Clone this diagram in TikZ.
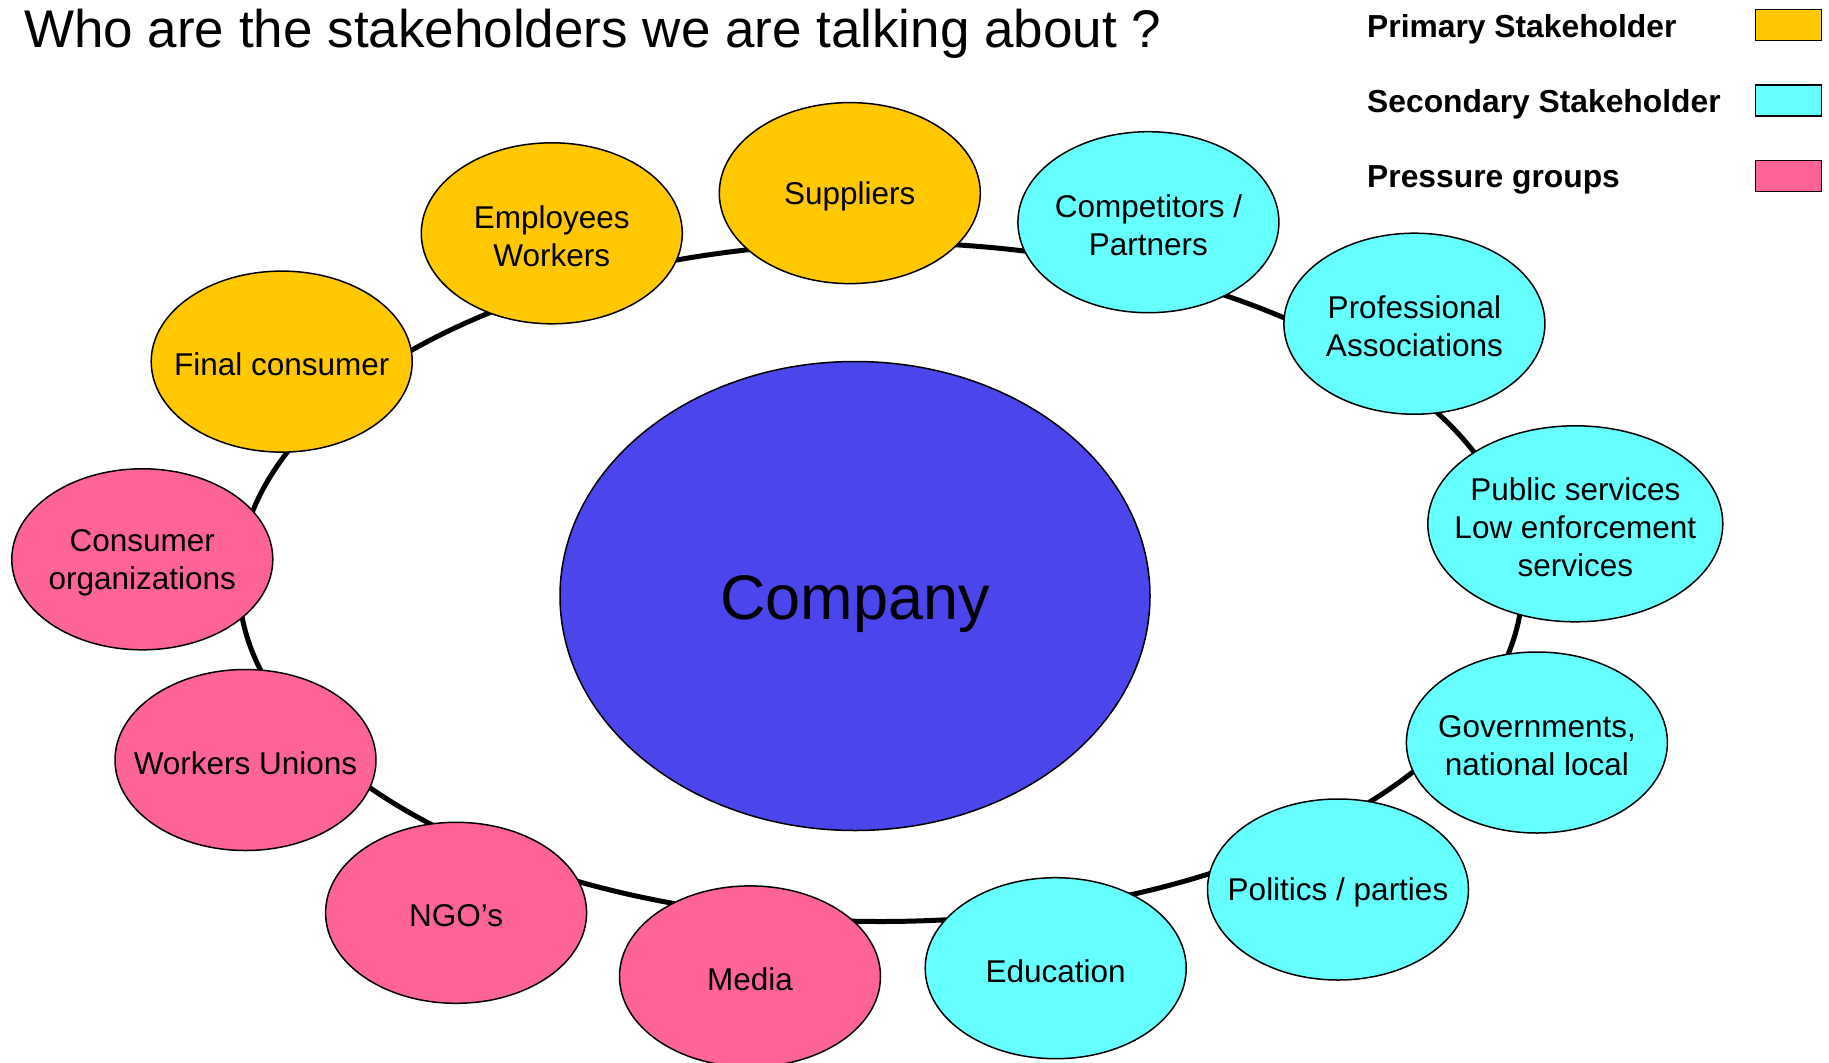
\documentclass[tikz,border=0pt]{standalone}
\usepackage{fontspec}
\setmainfont{Liberation Sans}
\usetikzlibrary{shapes.geometric}
\definecolor{primc}{RGB}{255,200,0}
\definecolor{secc}{RGB}{102,255,255}
\definecolor{presc}{RGB}{255,100,150}
\definecolor{compc}{RGB}{74,70,236}
\tikzset{
  stk/.style={ellipse, draw=black, line width=1.5pt, minimum width=261pt, minimum height=181pt, inner sep=0pt},
  lbl/.style={align=center, font=\fontsize{31.5}{38}\selectfont, inner sep=0pt, yshift=-3pt},
  prim/.style={stk, fill=primc},
  sec/.style={stk, fill=secc},
  pres/.style={stk, fill=presc},
  ring/.style={draw=black, line width=5pt},
  legtext/.style={anchor=base west, inner sep=0pt, font=\fontsize{31.8}{38}\selectfont\bfseries},
  legbox/.style={draw=black, line width=1.5pt, minimum width=66pt, minimum height=31pt, inner sep=0pt},
}
\begin{document}
\begin{tikzpicture}[x=1pt, y=-1pt]
\useasboundingbox (0,0) rectangle (1829,1063);
\clip (0,0) rectangle (1829,1063);
% title
\node[anchor=base west, inner sep=0pt, font=\fontsize{53}{60}\selectfont] (title) at (24,47) {Who are the stakeholders we are talking about ?};
% legend
\node[legtext] (l1) at (1367,37) {Primary Stakeholder};
\node[legtext] (l2) at (1367,112) {Secondary Stakeholder};
\node[legtext] (l3) at (1367,187) {Pressure groups};
\node[legbox, fill=primc] (b1) at (1788.5,25) {};
\node[legbox, fill=secc] (b2) at (1788.5,100.3) {};
\node[legbox, fill=presc] (b3) at (1788.5,176.2) {};
% ring
\coordinate (ringc) at (880.7,582);
\draw[ring] (ringc) ellipse [x radius=642, y radius=339.5];
% company
\node[ellipse, draw=black, line width=1.5pt, fill=compc, minimum width=590pt, minimum height=469pt, inner sep=0pt,
      label={[inner sep=0pt, yshift=-8pt, font=\fontsize{63}{70}\selectfont]center:Company}] (company) at (855,596) {};
% stakeholders
\node[prim, label={[lbl]center:Final consumer}] (fc) at (281.7,361.6) {};
\node[prim, label={[lbl]center:Employees\\Workers}] (emp) at (551.8,233.3) {};
\node[prim, label={[lbl]center:Suppliers}] (sup) at (849.8,193.1) {};
\node[sec, label={[lbl]center:Competitors /\\Partners}] (comp) at (1148.4,222.2) {};
\node[sec, label={[lbl]center:Professional\\Associations}] (prof) at (1414.4,323.7) {};
\node[sec, minimum width=295pt, minimum height=196pt, label={[lbl]center:Public services\\Low enforcement\\services}] (pub) at (1575.3,523.8) {};
\node[sec, label={[lbl]center:Governments,\\national local}] (gov) at (1536.9,742.5) {};
\node[sec, label={[lbl]center:Politics / parties}] (pol) at (1338,889.5) {};
\node[sec, label={[lbl]center:Education}] (edu) at (1055.7,968.2) {};
\node[pres, label={[lbl]center:Media}] (med) at (750,976.4) {};
\node[pres, label={[lbl]center:NGO’s}] (ngo) at (456.1,912.8) {};
\node[pres, label={[lbl]center:Workers Unions}] (wu) at (245.5,760) {};
\node[pres, label={[lbl]center:Consumer\\organizations}] (co) at (142.3,559.3) {};
\end{tikzpicture}
\end{document}
